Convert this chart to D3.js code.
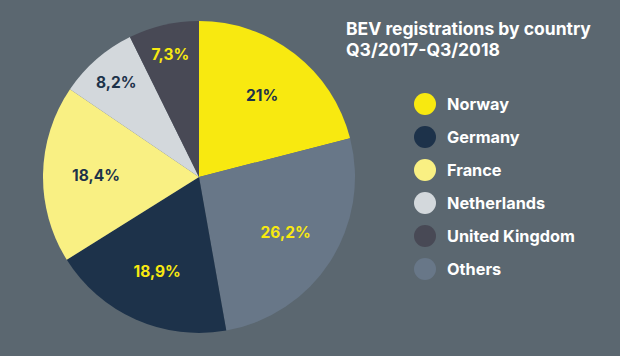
<!DOCTYPE html>
<html><head><meta charset="utf-8">
<script src="https://cdn.jsdelivr.net/npm/d3@7"></script>
<style>
html,body{margin:0;padding:0;background:#5b6770;}
svg{display:block;}
text{font-family:Inter,Lato,"Open Sans",sans-serif;font-weight:700;}
</style></head>
<body>
<svg id="c" width="620" height="356"></svg>
<script>
const categories = ["Norway","Others","Germany","France","Netherlands","United Kingdom"];
const values = [21, 26.2, 18.9, 18.4, 8.2, 7.3];
const labels = ["21%","26,2%","18,9%","18,4%","8,2%","7,3%"];
const legendOrder = ["Norway","Germany","France","Netherlands","United Kingdom","Others"];
const colors = {"Norway":"#f8e910","Others":"#687788","Germany":"#1d324a","France":"#f9f083","Netherlands":"#d3d8dc","United Kingdom":"#484955"};
const labelColors = {"Norway":"#1d324a","Others":"#f8e910","Germany":"#f8e910","France":"#1d324a","Netherlands":"#1d324a","United Kingdom":"#f8e910"};
const title = ["BEV registrations by country","Q3/2017-Q3/2018"];

const svg = d3.select("#c");
const cx = 199, cy = 177, R = 156;
const data = categories.map((c,i)=>({cat:c,value:values[i],label:labels[i]}));
const pie = d3.pie().sort(null).value(d=>d.value);
const arcs = pie(data);
const arc = d3.arc().innerRadius(0).outerRadius(R);
const g = svg.append("g").attr("transform",`translate(${cx},${cy})`);
g.selectAll("path").data(arcs).join("path")
  .attr("d",arc).attr("fill",d=>colors[d.data.cat]);
g.selectAll("text").data(arcs).join("text")
  .attr("transform",d=>{
    const r = d.data.value < 10 ? 126 : 103;
    const a = d3.arc().innerRadius(r).outerRadius(r);
    const [x,y] = a.centroid(d);
    return `translate(${x},${y})`;
  })
  .attr("text-anchor","middle").attr("dy","0.36em")
  .attr("font-size",15.5).attr("fill",d=>labelColors[d.data.cat])
  .text(d=>d.data.label);

svg.selectAll("text.title").data(title).join("text").attr("class","title")
  .attr("x",346).attr("y",(d,i)=>35+i*21)
  .attr("font-size",17.5).attr("fill","#ffffff").text(d=>d);

const ly = d3.scalePoint().domain(legendOrder).range([104,269]);
const lg = svg.append("g");
lg.selectAll("circle").data(legendOrder).join("circle")
  .attr("cx",425).attr("cy",d=>ly(d)).attr("r",11).attr("fill",d=>colors[d]);
lg.selectAll("text").data(legendOrder).join("text")
  .attr("x",447).attr("y",d=>ly(d)).attr("dy","0.36em")
  .attr("font-size",16.3).attr("fill","#ffffff").text(d=>d);
</script>
</body></html>
